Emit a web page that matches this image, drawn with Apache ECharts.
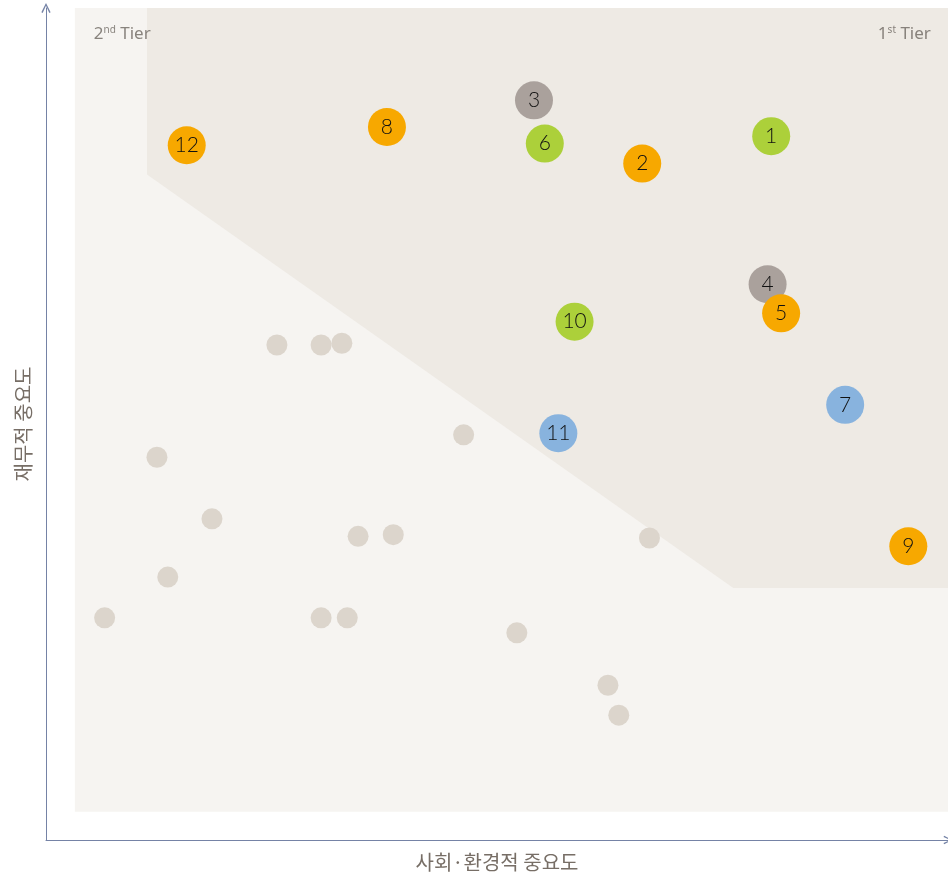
<!DOCTYPE html>
<html>
<head>
<meta charset="utf-8">
<script src="https://cdn.jsdelivr.net/npm/echarts@6/dist/echarts.min.js"></script>
<style>
  html, body { margin: 0; padding: 0; background: #ffffff; }
  #chart { width: 948px; height: 878px; }
</style>
</head>
<body>
<div id="chart"></div>
<script>
// Materiality matrix: social/environmental importance (x) vs financial importance (y), 0–100 scale.

// Numbered material issues
const issueIds   = ['1', '2', '3', '4', '5', '6', '7', '8', '9', '10', '11', '12'];
const issueX     = [80.4, 66.1, 54.1, 80.0, 81.5, 55.3, 88.6, 37.8, 95.6, 58.6, 56.8, 15.6];
const issueY     = [84.6, 81.3, 88.9, 66.8, 63.3, 83.7, 52.3, 85.7, 35.3, 62.3, 48.9, 83.5];
const issueGroup = ['green', 'orange', 'grey', 'grey', 'orange', 'green', 'blue', 'orange', 'orange', 'green', 'blue', 'orange'];

// Remaining (non-material) issues
const otherX = [25.6, 30.5, 32.8, 12.3, 46.3, 18.4, 34.6, 38.5, 66.9, 13.5, 6.5, 30.5, 33.4, 52.2, 62.3, 63.5];
const otherY = [59.5, 59.5, 59.7, 46.0, 48.7, 38.6, 36.5, 36.7, 36.3, 31.6, 26.7, 26.7, 26.7, 24.9, 18.6, 15.0];

// Shaded zones (vertex lists in axis units)
const fieldRegion = [[3.2, 100], [100, 100], [100, 3.4], [3.2, 3.4]];
const tierRegion  = [[11.2, 100], [100, 100], [100, 30.3], [76.2, 30.3], [11.2, 80.0]];

// Axis titles and zone captions
const xAxisTitle = '사회·환경적 중요도';
const yAxisTitle = '재무적 중요도';
const tierNames  = [['2', 'nd', ' Tier'], ['1', 'st', ' Tier']];
const tierX      = [5.3, 98.1];
const tierY      = [96.8, 96.8];
const tierAlign  = ['left', 'right'];

const groupColors = {
  orange: '#f7a800',
  green: '#acd03a',
  grey: '#aaa19c',
  blue: '#88b3de'
};

// open chevron used as the axis arrow head
const chevron = 'path://M0,10 L5,0 L10,10 L8.6,10.8 L5,3.0 L1.4,10.8 Z';

function regionSeries(vertices, color, z) {
  return {
    type: 'custom',
    silent: true,
    clip: false,
    z: z,
    data: [0],
    renderItem: function (params, api) {
      const pts = vertices.map(function (v) { return api.coord(v); });
      return {
        type: 'polygon',
        shape: { points: pts },
        style: { fill: color }
      };
    }
  };
}

const issueData = issueIds.map(function (id, i) {
  return {
    name: id,
    value: [issueX[i], issueY[i]],
    itemStyle: { color: groupColors[issueGroup[i]], opacity: 1 }
  };
});

const otherData = otherX.map(function (x, i) { return [x, otherY[i]]; });

const tierData = tierNames.map(function (parts, i) {
  return {
    value: [tierX[i], tierY[i]],
    label: {
      align: tierAlign[i],
      formatter: '{b|' + parts[0] + '}{s|' + parts[1] + '}{b|' + parts[2] + '}'
    }
  };
});

const axisTitleStyle = { color: '#776e66', fontSize: 20, fontFamily: 'Noto Sans CJK KR' };

function baseAxis(title, gap, arrowSize) {
  return {
    type: 'value',
    min: 0,
    max: 100,
    name: title,
    nameLocation: 'middle',
    nameGap: gap,
    nameTextStyle: axisTitleStyle,
    axisLine: {
      show: true,
      symbol: ['none', chevron],
      symbolSize: arrowSize,
      lineStyle: { color: '#7583a6', width: 1 }
    },
    axisTick: { show: false },
    axisLabel: { show: false },
    splitLine: { show: false }
  };
}

const chart = echarts.init(document.getElementById('chart'), null, { renderer: 'canvas' });

chart.setOption({
  backgroundColor: '#ffffff',
  animation: false,
  grid: { left: 46, right: 0, top: 8, bottom: 38, containLabel: false, outerBoundsMode: 'none' },
  xAxis: baseAxis(xAxisTitle, 12, [17, 9]),
  yAxis: baseAxis(yAxisTitle, 13, [17, 10]),
  series: [
    regionSeries(fieldRegion, '#f6f4f1', 1),
    regionSeries(tierRegion, '#eeeae4', 2),
    {
      type: 'scatter',
      z: 3,
      silent: true,
      symbol: 'circle',
      symbolSize: 21,
      itemStyle: { color: '#dcd5cc', opacity: 1 },
      data: otherData
    },
    {
      type: 'scatter',
      z: 4,
      silent: true,
      symbol: 'circle',
      symbolSize: 38,
      itemStyle: { opacity: 1 },
      data: issueData,
      label: {
        show: true,
        position: 'inside',
        formatter: '{b}',
        color: '#111111',
        fontSize: 21,
        fontFamily: 'Lato',
        fontWeight: 300
      }
    },
    {
      type: 'scatter',
      z: 5,
      silent: true,
      symbolSize: 0,
      data: tierData,
      label: {
        show: true,
        position: 'inside',
        rich: {
          b: { fontSize: 17, color: '#6d6660', fontFamily: 'Noto Sans', lineHeight: 20 },
          s: { fontSize: 10, color: '#6d6660', fontFamily: 'Noto Sans', lineHeight: 20, padding: [0, 0, 9, 0] }
        }
      }
    }
  ]
});
</script>
</body>
</html>
